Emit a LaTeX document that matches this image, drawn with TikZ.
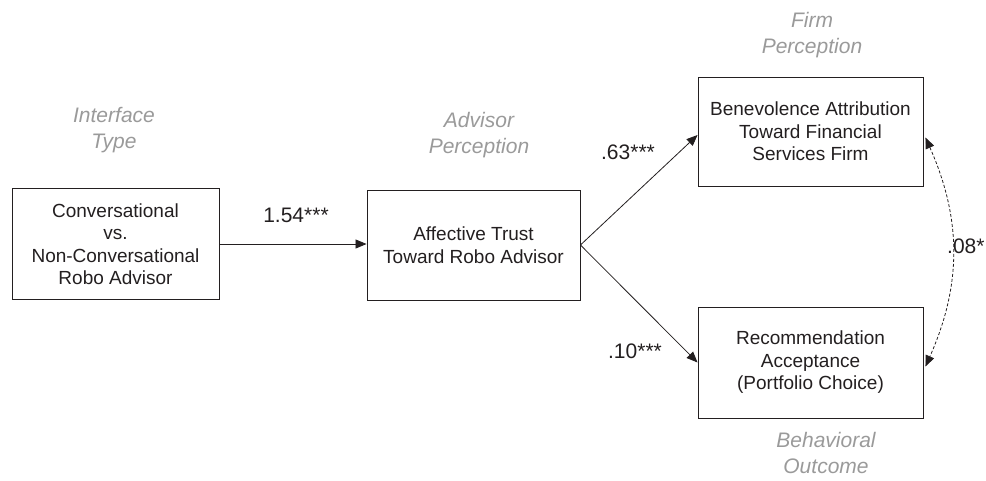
\documentclass[tikz,border=0pt]{standalone}
\usepackage{fontspec}
\setmainfont{Liberation Sans}
\usetikzlibrary{arrows.meta}
\definecolor{ink}{HTML}{231F20}
\definecolor{cat}{HTML}{9A9A9A}
\begin{document}
\begin{tikzpicture}[x=1pt,y=-1pt,
  font=\fontsize{19}{22.5}\selectfont,
  box/.style={draw=ink, line width=0.9pt, align=center, text=ink, inner sep=0pt},
  catlabel/.style={text=cat, align=center, font=\fontsize{21}{26}\selectfont\itshape},
  path/.style={draw=ink, line width=0.8pt, -{Triangle[length=11pt,width=9pt]}},
  coef/.style={text=ink, font=\fontsize{21}{24}\selectfont}]
\useasboundingbox (0,0) rectangle (986,480);
\node[box, minimum width=207pt, minimum height=111pt] (b1) at (115.5,244) {Conversational\\vs.\\Non-Conversational\\Robo Advisor};
\node[box, minimum width=213pt, minimum height=110pt] (b2) at (473.5,245) {Affective Trust\\Toward Robo Advisor};
\node[box, minimum width=225pt, minimum height=109pt] (b3) at (810.5,131.5) {Benevolence Attribution\\Toward Financial\\Services Firm};
\node[box, minimum width=225pt, minimum height=111pt] (b4) at (810.5,362.5) {Recommendation\\Acceptance\\(Portfolio Choice)};

\node[catlabel] (c1) at (114,130) {Interface\\Type};
\node[catlabel] (c2) at (479,135) {Advisor\\Perception};
\node[catlabel] (c3) at (812,35) {Firm\\Perception};
\node[catlabel] (c4) at (826,453) {Behavioral\\Outcome};

\draw[path] (b1.east |- 0,244) -- (b2.west |- 0,244);
\draw[path] (b2.east) -- ([yshift=-3.5pt]b3.west);
\draw[path] (b2.east) -- (b4.west);
\draw[draw=ink, line width=0.8pt, dash pattern=on 3pt off 2pt,
  {Triangle[length=11pt,width=9pt]}-{Triangle[length=11pt,width=9pt]}]
  ([yshift=-6pt,xshift=2pt]b3.east) to[bend left=24] ([yshift=-4pt,xshift=2pt]b4.east);

\node[coef] (l1) at (296,215) {1.54***};
\node[coef] (l2) at (628,152) {.63***};
\node[coef] (l3) at (635,351) {.10***};
\node[coef, anchor=west, inner xsep=0pt] (l4) at (947,246) {.08*};
\end{tikzpicture}
\end{document}
